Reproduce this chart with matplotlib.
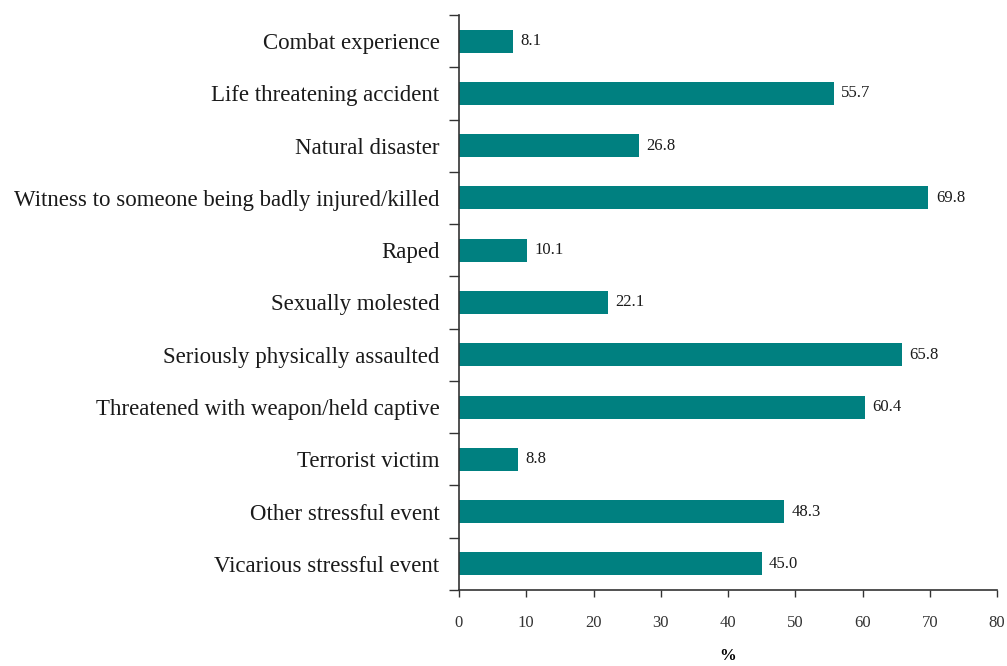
import numpy as np
import matplotlib.pyplot as plt

plt.rcParams['font.family'] = ['Liberation Serif', 'DejaVu Serif']

# trauma types, top to bottom
events = ['Combat experience', 'Life threatening accident', 'Natural disaster',
          'Witness to someone being badly injured/killed', 'Raped',
          'Sexually molested', 'Seriously physically assaulted',
          'Threatened with weapon/held captive', 'Terrorist victim',
          'Other stressful event', 'Vicarious stressful event']
pct = [8.1, 55.7, 26.8, 69.8, 10.1, 22.1, 65.8, 60.4, 8.8, 48.3, 45.0]
xticks = [0, 10, 20, 30, 40, 50, 60, 70, 80]

fig = plt.figure(figsize=(10.07, 6.66), dpi=100)
ax = fig.add_axes([0.4558, 0.1141, 0.5343, 0.8634])

n = len(events)
ypos = np.arange(n)[::-1]
ax.barh(ypos, pct, height=0.44, color='#008080', zorder=2)
for y, v in zip(ypos, pct):
    ax.text(v + 1.1, y, '{:.1f}'.format(v), va='center', ha='left',
            fontsize=12, color='#1a1a1a')

ax.set_xlim(0, 80)
ax.set_ylim(-0.5, n - 0.5)
ax.set_xticks(xticks)
ax.set_xticklabels([str(t) for t in xticks], fontsize=12, color='#333333')

# category labels sit between boundary ticks
ax.set_yticks(ypos)
ax.set_yticklabels(events, fontsize=16.5, color='#1a1a1a')
ax.set_yticks(np.arange(n + 1) - 0.5, minor=True)
ax.tick_params(axis='y', which='major', length=0, pad=14)
ax.tick_params(axis='y', which='minor', length=7, direction='out',
               width=1, color='#333333')
ax.tick_params(axis='x', length=5, width=1, direction='out', pad=13,
               color='#333333')

for s in ['top', 'right']:
    ax.spines[s].set_visible(False)
for s in ['left', 'bottom']:
    ax.spines[s].set_color('#333333')
    ax.spines[s].set_linewidth(1.2)

ax.set_xlabel('%', fontsize=12, fontweight='bold', labelpad=12)

fig.savefig('out.png', dpi=100)
